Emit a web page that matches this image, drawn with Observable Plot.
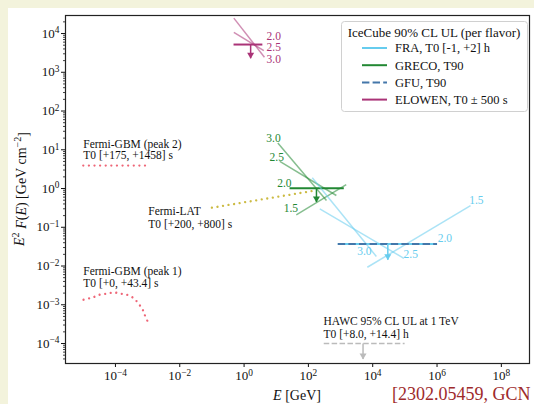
<!DOCTYPE html>
<html><head><meta charset="utf-8">
<script src="https://cdn.jsdelivr.net/npm/d3@7"></script>
<script src="https://cdn.jsdelivr.net/npm/@observablehq/plot@0.6"></script>
<style>
html,body{margin:0;padding:0;}
body{background:#f3f3dc;width:534px;height:404px;overflow:hidden;position:relative;font-family:"Liberation Serif",serif;}
#fig{position:absolute;left:8px;top:8px;width:526px;height:396px;background:#fff;overflow:hidden;}
#fig svg, #fig svg text{font-family:"Liberation Serif",serif !important;}
#fig > svg.chart{position:absolute;left:0;top:0;}
#fig > svg#legend{position:absolute;left:333px;top:13px;}
</style></head>
<body>
<div id="fig"></div>
<script>
// ---------- tick values ----------
const xTicks = [1e-4, 1e-2, 1, 1e2, 1e4, 1e6, 1e8];
const yTicks = [1e-4, 1e-3, 1e-2, 1e-1, 1, 1e1, 1e2, 1e3, 1e4];

// ---------- colours ----------
const cFRA = "#66ccee", cGRECO = "#228833", cGFU = "#4477aa", cELOWEN = "#aa3377";
const cLAT = "#ccbb44", cGBM = "#ee6677", cHAWC = "#bbbbbb";

// ---------- IceCube ULs: segments [E1,F1] -> [E2,F2] (GeV, GeV cm^-2) ----------
const elowenSeg = [
  {index: "2.0", E1: 0.47, F1: 5200, E2: 3.7, F2: 5200},
  {index: "2.5", E1: 0.48, F1: 10700, E2: 4.1, F2: 3600},
  {index: "3.0", E1: 0.48, F1: 25000, E2: 4.3, F2: 2450}
];
const grecoSeg = [
  {index: "2.0", E1: 26, F1: 1.02, E2: 1260, F2: 1.02},
  {index: "2.5", E1: 12.9, F1: 5.0, E2: 740, F2: 0.66},
  {index: "3.0", E1: 11.2, F1: 15, E2: 365, F2: 0.49},
  {index: "1.5", E1: 42, F1: 0.21, E2: 1500, F2: 1.26}
];
const fraSeg = [
  {index: "2.0", E1: 820, F1: 0.037, E2: 1.0e6, F2: 0.037},
  {index: "2.5", E1: 226, F1: 0.30, E2: 9.3e4, F2: 0.0158},
  {index: "3.0", E1: 132, F1: 1.89, E2: 1.3e4, F2: 0.0176},
  {index: "1.5", E1: 6800, F1: 0.0093, E2: 1.1e7, F2: 0.36}
];
const gfuSeg = [{E1: 820, F1: 0.037, E2: 1.0e6, F2: 0.037}];
const hawcSeg = [{E1: 300, F1: 1e-4, E2: 9.8e4, F2: 1e-4}];

// upper-limit arrows
const ulArrows = [
  {E: 1.6, F1: 5200, F2: 2300, c: cELOWEN},
  {E: 178, F1: 1.02, F2: 0.45, c: cGRECO},
  {E: 2.95e4, F1: 0.037, F2: 0.0145, c: cFRA},
  {E: 5000, F1: 1e-4, F2: 4.0e-5, c: cHAWC}
];

// spectral-index labels
const elowenLbl = [
  {t: "2.0", E: 5.0, F: 8600}, {t: "2.5", E: 5.0, F: 4300}, {t: "3.0", E: 5.0, F: 2100}
];
const grecoLbl = [
  {t: "3.0", E: 4.9, F: 20}, {t: "2.5", E: 6.2, F: 6.5}, {t: "2.0", E: 10.7, F: 1.4}, {t: "1.5", E: 17, F: 0.30}
];
const fraLbl = [
  {t: "1.5", E: 1.0e7, F: 0.49}, {t: "2.0", E: 1.05e6, F: 0.052}, {t: "3.0", E: 3300, F: 0.0235}, {t: "2.5", E: 9.1e4, F: 0.0204}
];

// ---------- other instruments ----------
const gbmPeak2 = [{E: 1e-5, F: 3.9}, {E: 1e-3, F: 3.9}];
const gbmPeak1E = [1.02e-5, 1.58e-5, 2.29e-5, 3.24e-5, 4.90e-5, 7.41e-5, 1.07e-4, 1.62e-4, 2.40e-4, 3.55e-4, 4.68e-4, 6.03e-4, 7.24e-4, 8.13e-4, 9.77e-4];
const gbmPeak1F = [1.35e-3, 1.48e-3, 1.62e-3, 1.82e-3, 1.91e-3, 2.04e-3, 2.04e-3, 1.91e-3, 1.78e-3, 1.51e-3, 1.20e-3, 9.1e-4, 7.1e-4, 5.5e-4, 3.9e-4];
const latE = [0.1, 166];
const latF = [0.32, 0.89];

const notes = [
  {t: "Fermi-GBM (peak 2)", E: 1e-5, F: 14},
  {t: "T0 [+175, +1458] s", E: 1e-5, F: 7.1},
  {t: "Fermi-LAT", E: 1.05e-3, F: 0.26},
  {t: "T0 [+200, +800] s", E: 1.05e-3, F: 0.118},
  {t: "Fermi-GBM (peak 1)", E: 1e-5, F: 7.4e-3},
  {t: "T0 [+0, +43.4] s", E: 1e-5, F: 3.6e-3},
  {t: "HAWC 95% CL UL at 1 TeV", E: 295, F: 3.7e-4},
  {t: "T0 [+8.0, +14.4] h", E: 295, F: 1.7e-4}
];

const legendTitle = "IceCube 90% CL UL (per flavor)";
const legendItems = [
  {label: "FRA, T0 [-1, +2] h", c: cFRA, dash: null},
  {label: "GRECO, T90", c: cGRECO, dash: null},
  {label: "GFU, T90", c: cGFU, dash: "7.4,3.2"},
  {label: "ELOWEN, T0 \u00b1 500 s", c: cELOWEN, dash: null}
];
const refText = "[2302.05459, GCN";

const gbm1 = gbmPeak1E.map((E, i) => ({E, F: gbmPeak1F[i]}));
const lat = latE.map((E, i) => ({E, F: latF[i]}));
const flat = d => d.index === "2.0";
const slant = d => d.index !== "2.0";

const yMinor = d3.scaleLog().domain([3.05e-5, 2.92e4]).ticks().filter(v => !yTicks.some(t => Math.abs(t - v) / t < 1e-6));
const pow = d => "10^" + Math.round(Math.log10(d));
const FONT = "Liberation Serif";
const dotted = {strokeWidth: 2.3, strokeDasharray: "0.01,5.6", strokeLinecap: "round"};

function segMarks(data, color) {
  return [
    Plot.link(data.filter(slant), {x1: "E1", y1: "F1", x2: "E2", y2: "F2", stroke: color, strokeWidth: 1.5, strokeOpacity: 0.55, clip: true}),
    Plot.link(data.filter(flat), {x1: "E1", y1: "F1", x2: "E2", y2: "F2", stroke: color, strokeWidth: 2, clip: true})
  ];
}
function lblMarks(data, color) {
  return Plot.text(data, {x: "E", y: "F", text: "t", fill: color, textAnchor: "start", lineAnchor: "middle", fontSize: 11.5, fontFamily: FONT});
}

const chart = Plot.plot({
  width: 526, height: 396,
  marginLeft: 57, marginRight: 5, marginTop: 7, marginBottom: 41,
  className: "chart",
  style: {fontFamily: FONT, background: "transparent", color: "#111", overflow: "visible"},
  x: {type: "log", domain: [2.8e-6, 7.5e8]},
  y: {type: "log", domain: [3.05e-5, 2.92e4]},
  marks: [
    Plot.axisY(yMinor, {tickSize: 2, tickFormat: () => "", label: null, strokeWidth: 0.8}),
    Plot.axisY({ticks: yTicks, tickSize: 4, tickPadding: 2, tickFormat: pow, fontSize: 13, fontFamily: FONT, label: null}),
    Plot.axisX({ticks: xTicks, tickSize: 4, tickPadding: 3, tickFormat: pow, fontSize: 13, fontFamily: FONT, label: null}),
    // Fermi
    Plot.line(gbmPeak2, {x: "E", y: "F", stroke: cGBM, ...dotted}),
    Plot.line(gbm1, {x: "E", y: "F", stroke: cGBM, ...dotted, curve: "catmull-rom"}),
    Plot.line(lat, {x: "E", y: "F", stroke: cLAT, ...dotted}),
    // HAWC
    Plot.link(hawcSeg, {x1: "E1", y1: "F1", x2: "E2", y2: "F2", stroke: cHAWC, strokeWidth: 1.5, strokeDasharray: "5.5,2.4"}),
    // IceCube
    ...segMarks(elowenSeg, cELOWEN),
    ...segMarks(grecoSeg, cGRECO),
    ...segMarks(fraSeg, cFRA),
    Plot.link(gfuSeg, {x1: "E1", y1: "F1", x2: "E2", y2: "F2", stroke: cGFU, strokeWidth: 2, strokeDasharray: "7.4,3.2"}),
    // arrows
    Plot.link(ulArrows, {x1: "E", x2: "E", y1: "F1", y2: "F2", stroke: "c", strokeWidth: 1.5}),
    Plot.dot(ulArrows, {x: "E", y: "F2", fill: "c", symbol: "triangle", rotate: 180, r: 2.6, dy: -3.5}),
    // labels
    lblMarks(elowenLbl, cELOWEN),
    lblMarks(grecoLbl, cGRECO),
    lblMarks(fraLbl, cFRA),
    Plot.text(notes, {x: "E", y: "F", text: "t", textAnchor: "start", lineAnchor: "middle", fontSize: 11.5, fontFamily: FONT, fill: "#111"}),
    Plot.frame({stroke: "#222", strokeWidth: 1.2})
  ]
});
document.getElementById("fig").appendChild(chart);

// superscript tick labels
const svg = d3.select(chart);
svg.selectAll('g[aria-label="x-axis tick label"] text, g[aria-label="y-axis tick label"] text').each(function () {
  const s = this.textContent;
  if (!s.startsWith("10^")) return;
  const e = s.slice(3).replace("-", "\u2212");
  const t = d3.select(this);
  t.text(null);
  t.append("tspan").text("10");
  t.append("tspan").attr("dy", "-0.45em").attr("font-size", "0.72em").text(e);
});

// axis titles
svg.append("text").attr("x", 289).attr("y", 392).attr("text-anchor", "middle")
  .attr("font-size", 14).attr("fill", "#111")
  .call(t => { t.append("tspan").attr("font-style", "italic").text("E"); t.append("tspan").text(" [GeV]"); });
const yl = svg.append("text").attr("transform", "translate(16,181) rotate(-90)").attr("text-anchor", "middle")
  .attr("font-size", 14).attr("fill", "#111");
yl.append("tspan").attr("font-style", "italic").text("E");
yl.append("tspan").attr("dy", "-0.45em").attr("font-size", "0.72em").text("2");
yl.append("tspan").attr("dy", "0.45em").text(" ");
yl.append("tspan").attr("font-style", "italic").text("F");
yl.append("tspan").text("(");
yl.append("tspan").attr("font-style", "italic").text("E");
yl.append("tspan").text(") [GeV cm");
yl.append("tspan").attr("dy", "-0.45em").attr("font-size", "0.72em").text("\u22122");
yl.append("tspan").attr("dy", "0.45em").text("]");

// citation
svg.append("text").attr("x", 384).attr("y", 392).attr("text-anchor", "start")
  .attr("font-size", 18).attr("fill", "#9e2a2b").text(refText);

// legend
const lg = d3.select("#fig").append("svg").attr("id", "legend").attr("width", 188).attr("height", 92);
lg.append("rect").attr("x", 0.5).attr("y", 0.5).attr("width", 186).attr("height", 90).attr("rx", 3)
  .attr("fill", "#fff").attr("fill-opacity", 0.85).attr("stroke", "#d0d0d0");
lg.append("text").attr("x", 93).attr("y", 11).attr("dy", "0.35em").attr("text-anchor", "middle")
  .attr("font-size", 13).attr("fill", "#111").text(legendTitle);
legendItems.forEach((d, i) => {
  const y = 27 + i * 17.2;
  lg.append("line").attr("x1", 21).attr("x2", 46).attr("y1", y).attr("y2", y)
    .attr("stroke", d.c).attr("stroke-width", 2).attr("stroke-dasharray", d.dash);
  lg.append("text").attr("x", 54).attr("y", y).attr("dy", "0.35em").attr("text-anchor", "start").attr("font-size", 12.5)
    .attr("fill", "#111").text(d.label);
});
</script>
</body></html>
